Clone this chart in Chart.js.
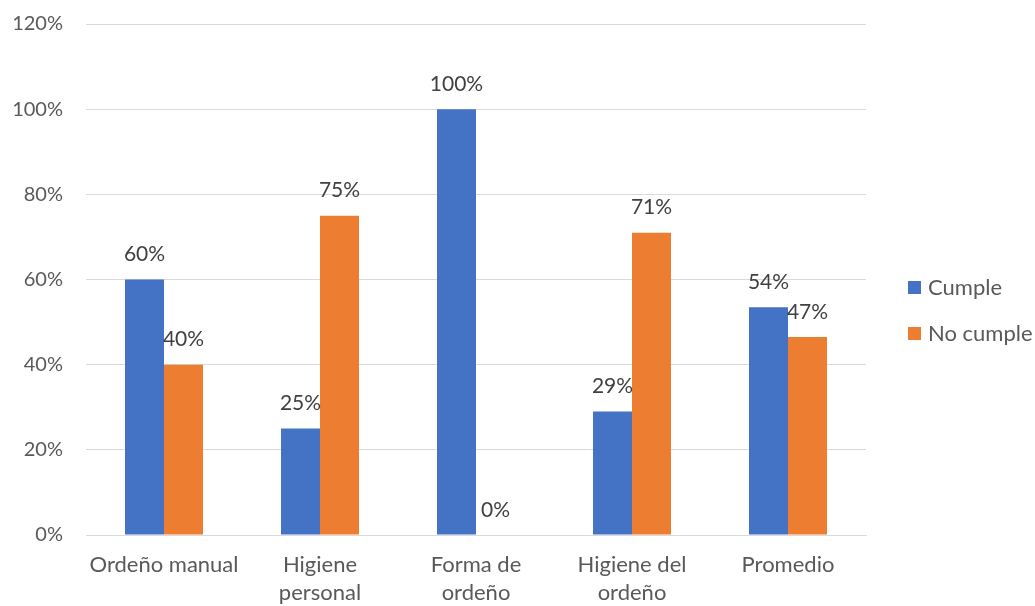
<!DOCTYPE html>
<html>
<head>
<meta charset="utf-8">
<script src="https://cdn.jsdelivr.net/npm/chart.js@4"></script>
<style>
  html, body { margin: 0; padding: 0; background: #fff; }
  #wrap { width: 1035px; height: 606px; }
</style>
</head>
<body>
<div id="wrap"><canvas id="chart" width="1035" height="606"></canvas></div>
<script>
const categories = [
    'Ordeño manual',
    ['Higiene', 'personal'],
    ['Forma de', 'ordeño'],
    ['Higiene del', 'ordeño'],
    'Promedio'
]
const cumple = [60, 25, 100, 29, 53.5]
const noCumple = [40, 75, 0, 71, 46.5]
const yTicks = [0, 20, 40, 60, 80, 100, 120]

const FONT = 'Lato, Calibri, Carlito, sans-serif'
const BLUE = '#4472C4'
const ORANGE = '#ED7D31'

// value labels above each bar
const barLabels = {
    id: 'barLabels',
    afterDatasetsDraw(chart) {
        let ctx = chart.ctx
        ctx.save()
        ctx.font = '21px ' + FONT
        ctx.fillStyle = '#404040'
        ctx.textAlign = 'center'
        ctx.textBaseline = 'middle'
        chart.data.datasets.forEach((ds, i) => {
            chart.getDatasetMeta(i).data.forEach((bar, j) => {
                ctx.fillText(Math.round(ds.data[j]) + '%', bar.x, bar.y - 25)
            })
        })
        ctx.restore()
    }
}

// legend on the right, square swatches
const sideLegend = {
    id: 'sideLegend',
    afterDraw(chart) {
        let ctx = chart.ctx
        let x = chart.chartArea.right + 42
        let y = 287.5
        ctx.save()
        ctx.font = '22px ' + FONT
        ctx.textBaseline = 'middle'
        chart.data.datasets.forEach(ds => {
            ctx.fillStyle = ds.backgroundColor
            ctx.fillRect(x, y - 6.5, 13, 13)
            ctx.fillStyle = '#595959'
            ctx.fillText(ds.label, x + 20, y)
            y += 46
        })
        ctx.restore()
    }
}

let chart = new Chart(document.getElementById('chart').getContext('2d'), {
    type: 'bar',
    data: {
        labels: categories,
        datasets: [
            { label: 'Cumple', data: cumple, backgroundColor: BLUE },
            { label: 'No cumple', data: noCumple, backgroundColor: ORANGE }
        ]
    },
    options: {
        responsive: false,
        animation: false,
        layout: { padding: { top: 24, right: 169, bottom: 0, left: 0 } },
        datasets: {
            bar: { categoryPercentage: 0.5, barPercentage: 1 }
        },
        scales: {
            x: {
                grid: { display: false, drawTicks: false },
                border: { display: true, color: '#D9D9D9', width: 1 },
                ticks: {
                    color: '#595959',
                    font: { family: FONT, size: 22, lineHeight: '28px' },
                    padding: 16,
                    maxRotation: 0,
                    autoSkip: false
                },
                afterFit(scale) { scale.height = 71 }
            },
            y: {
                min: 0,
                max: 120,
                afterBuildTicks(scale) { scale.ticks = yTicks.map(v => ({ value: v })) },
                // invisible tick marks keep the labels clear of the plot
                grid: { color: '#D9D9D9', lineWidth: 1, drawTicks: true, tickLength: 20, tickColor: 'rgba(0,0,0,0)' },
                border: { display: false },
                ticks: {
                    color: '#595959',
                    font: { family: FONT, size: 20 },
                    padding: 3,
                    callback: v => v + '%'
                },
                afterFit(scale) { scale.width = 86 }
            }
        },
        plugins: {
            legend: { display: false },
            tooltip: { enabled: false }
        }
    },
    plugins: [barLabels, sideLegend]
})
</script>
</body>
</html>
